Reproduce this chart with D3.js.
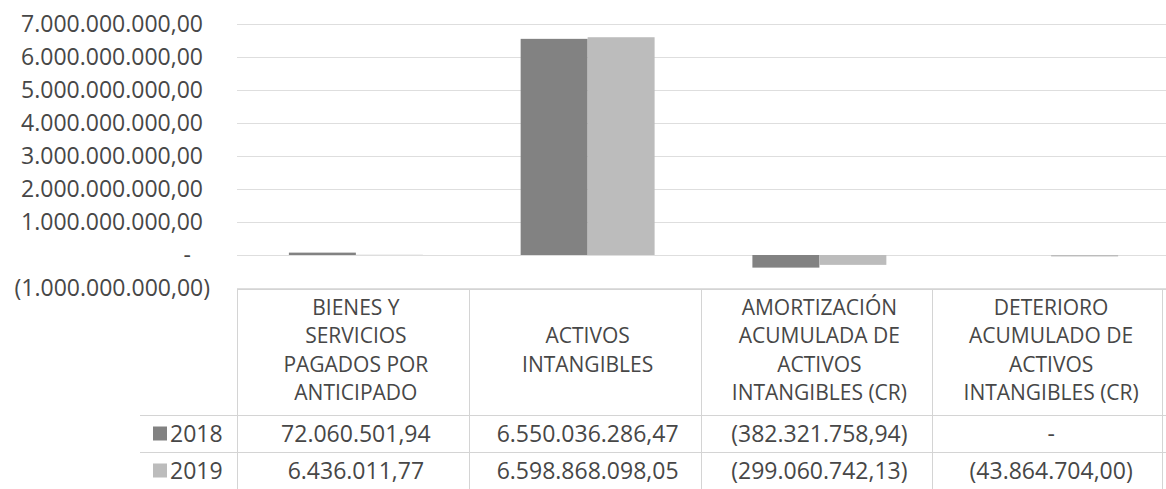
<!DOCTYPE html>
<html>
<head>
<meta charset="utf-8">
<script src="https://cdn.jsdelivr.net/npm/d3@7"></script>
<style>
  body { margin: 0; background: #fff; }
  svg text { font-family: "Open Sans", sans-serif; fill: #474747; }
</style>
</head>
<body>
<svg id="chart"></svg>
<script>
// chart data
const categories = [
    "BIENES Y\nSERVICIOS\nPAGADOS POR\nANTICIPADO",
    "ACTIVOS\nINTANGIBLES",
    "AMORTIZACIÓN\nACUMULADA DE\nACTIVOS\nINTANGIBLES (CR)",
    "DETERIORO\nACUMULADO DE\nACTIVOS\nINTANGIBLES (CR)"
]
const years = ["2018", "2019"]
const values2018 = [72060501.94, 6550036286.47, -382321758.94, 0]
const values2019 = [6436011.77, 6598868098.05, -299060742.13, -43864704.00]
const yTicks = [-1e9, 0, 1e9, 2e9, 3e9, 4e9, 5e9, 6e9, 7e9]
const seriesColors = ["#828282", "#bcbcbc"]

const W = 1166, H = 489
const fontSize = 23
const headerFont = 21
const plotLeft = 240, plotRight = 1167

// spanish accounting style number format, zero shown as "-"
const locale = d3.formatLocale({ decimal: ",", thousands: ".", grouping: [3], currency: ["", ""] })
const fmtNum = locale.format("(,.2f")
const fmt = v => v === 0 ? "-" : fmtNum(v)

const series = [values2018, values2019]

const svg = d3.select("#chart").attr("width", W).attr("height", H)

const y = d3.scaleLinear()
    .domain([-1e9, 7e9])
    .range([288, 24])

const x0 = d3.scaleBand()
    .domain(d3.range(categories.length))
    .range([plotLeft, plotRight])

const x1 = d3.scaleBand()
    .domain(d3.range(years.length))
    .range([0, x0.bandwidth()])
    .paddingOuter(0.73)

// gridlines
svg.append("g").selectAll("line").data(yTicks).enter().append("line")
    .attr("x1", plotLeft - 3)
    .attr("x2", W)
    .attr("y1", d => Math.round(y(d)) + 0.5)
    .attr("y2", d => Math.round(y(d)) + 0.5)
    .attr("stroke", "#dedede")
    .attr("stroke-width", 1)

// y labels, accounting alignment: positives leave room for ")"
const labelRight = 210
svg.append("g").selectAll("text").data(yTicks).enter().append("text")
    .attr("x", labelRight)
    .attr("dx", d => d < 0 ? 0 : d === 0 ? -19 : -7)
    .attr("y", d => y(d))
    .attr("dy", "0.36em")
    .attr("text-anchor", "end")
    .attr("font-size", fontSize)
    .text(fmt)

// bars
const barG = svg.append("g")
series.forEach((vals, si) => {
    barG.append("g").selectAll("rect").data(vals).enter().append("rect")
        .attr("x", (d, i) => x0(i) + x1(si))
        .attr("width", x1.bandwidth())
        .attr("y", d => y(Math.max(0, d)))
        .attr("height", d => Math.abs(y(d) - y(0)))
        .attr("fill", seriesColors[si])
})

// data table under the plot
const tableTop = Math.round(y(-1e9)) + 1
const headerH = 126
const rowH = 37
const gridColor = "#d4d4d4"
const tableG = svg.append("g")

// horizontal borders
const hLines = [
    { y: tableTop, x1: plotLeft - 3 },
    { y: tableTop + headerH, x1: 140 },
    { y: tableTop + headerH + rowH, x1: 140 }
]
tableG.selectAll("line.h").data(hLines).enter().append("line")
    .attr("class", "h")
    .attr("x1", d => d.x1).attr("x2", W)
    .attr("y1", d => d.y + 0.5).attr("y2", d => d.y + 0.5)
    .attr("stroke", gridColor)

// vertical borders at each category edge
const edges = d3.range(categories.length).map(i => x0(i)).concat([W - 1])
tableG.selectAll("line.v").data(edges).enter().append("line")
    .attr("class", "v")
    .attr("x1", d => Math.round(d) - 2.5).attr("x2", d => Math.round(d) - 2.5)
    .attr("y1", tableTop).attr("y2", H)
    .attr("stroke", gridColor)

// header text, one text per line
const lineH = 28.5
const headerMid = tableTop + headerH / 2 - 2
categories.forEach((c, i) => {
    const lines = c.split("\n")
    tableG.append("g").selectAll("text").data(lines).enter().append("text")
        .attr("x", x0(i) + x0.bandwidth() / 2)
        .attr("y", (ln, k) => headerMid + (k - (lines.length - 1) / 2) * lineH)
        .attr("dy", "0.36em")
        .attr("text-anchor", "middle")
        .attr("font-size", headerFont)
        .text(ln => ln)
})

// value rows with legend keys
series.forEach((vals, si) => {
    const rowMid = tableTop + headerH + rowH * si + rowH / 2
    tableG.append("rect")
        .attr("x", 153).attr("y", rowMid - 7)
        .attr("width", 14).attr("height", 14)
        .attr("fill", seriesColors[si])
    tableG.append("text")
        .attr("x", 170).attr("y", rowMid)
        .attr("dy", "0.36em")
        .attr("font-size", fontSize)
        .text(years[si])
    tableG.append("g").selectAll("text").data(vals).enter().append("text")
        .attr("x", (d, i) => x0(i) + x0.bandwidth() / 2)
        .attr("y", rowMid)
        .attr("dy", "0.36em")
        .attr("text-anchor", "middle")
        .attr("font-size", fontSize)
        .text(fmt)
})
</script>
</body>
</html>
